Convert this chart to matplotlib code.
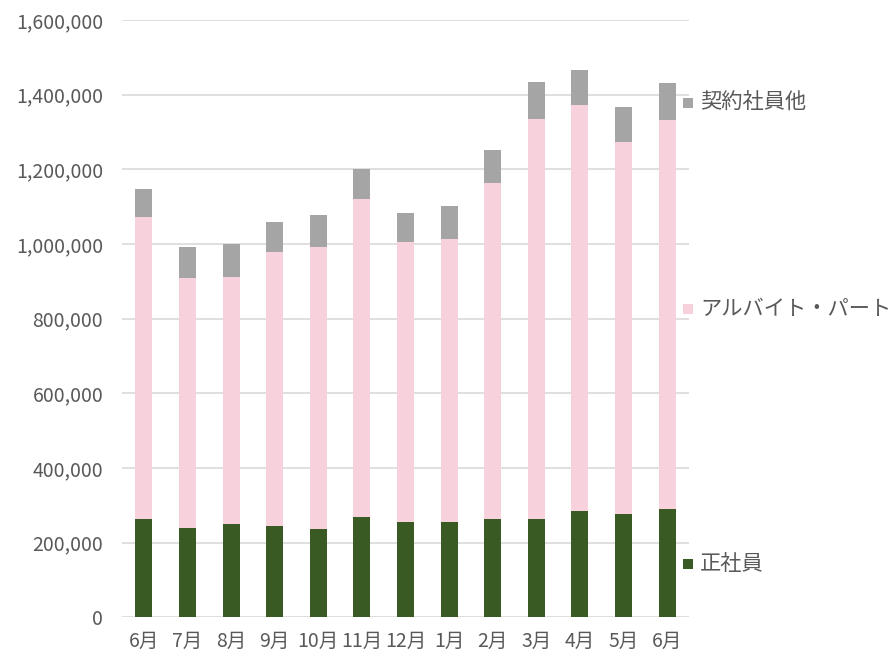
import matplotlib
matplotlib.use("Agg")
import matplotlib.pyplot as plt
from matplotlib.patches import Rectangle
import numpy as np

plt.rcParams['font.family'] = ['Noto Sans CJK JP', 'DejaVu Sans']

months = ["6月", "7月", "8月", "9月", "10月", "11月", "12月", "1月", "2月", "3月", "4月", "5月", "6月"]
seishain = [262000, 238000, 249000, 245000, 236000, 269000, 256000, 256000, 262000, 262000, 286000, 276000, 290000]
arbeit = [811000, 671000, 663000, 733000, 755000, 852000, 749000, 758000, 901000, 1073000, 1086000, 996000, 1041000]
keiyaku = [73000, 82000, 89000, 82000, 86000, 79000, 78000, 88000, 90000, 99000, 93000, 94000, 99000]
series_names = ["正社員", "アルバイト・パート", "契約社員他"]
colors = ["#3a5a24", "#f7d1dc", "#a5a5a5"]
yticks = [0, 200000, 400000, 600000, 800000, 1000000, 1200000, 1400000, 1600000]

W, H = 895, 655
fig = plt.figure(figsize=(W/100, H/100), dpi=100)
ax = fig.add_axes([122/W, (H-617.3)/H, (689-122)/W, (617.3-20)/H])

x = np.arange(len(months))
s1 = np.array(seishain)
s2 = np.array(arbeit)
s3 = np.array(keiyaku)
bw = 0.39
ax.bar(x, s1, bw, color=colors[0], zorder=3)
ax.bar(x, s2, bw, bottom=s1, color=colors[1], zorder=3)
ax.bar(x, s3, bw, bottom=s1+s2, color=colors[2], zorder=3)

ax.set_xlim(-0.5, len(months)-0.5)
ax.set_ylim(0, 1600000)
ax.set_yticks(yticks)
ax.set_yticklabels([f"{v:,}" for v in yticks])
ax.set_xticks(x)
ax.set_xticklabels(months)
ax.tick_params(axis='y', length=0, pad=13.5, labelsize=14, labelcolor="#595959")
ax.tick_params(axis='x', length=0, pad=10, labelsize=14, labelcolor="#595959")
ax.grid(axis='y', color="#d9d9d9", linewidth=1.2, zorder=0)
for sp in ax.spines.values():
    sp.set_visible(False)

# legend entries at right
legend_pos = [(564, series_names[0], colors[0]), (309, series_names[1], colors[1]), (103, series_names[2], colors[2])]
for yc, name, col in legend_pos:
    fig.patches.append(Rectangle((683/W, (H-yc-5)/H), 10/W, 10/H, transform=fig.transFigure,
                                 facecolor=col, edgecolor='none'))
    fig.text(700/W, (H-yc)/H, name, fontsize=15.3, color="#595959", va='center', ha='left')

fig.savefig("out.png", dpi=100)
